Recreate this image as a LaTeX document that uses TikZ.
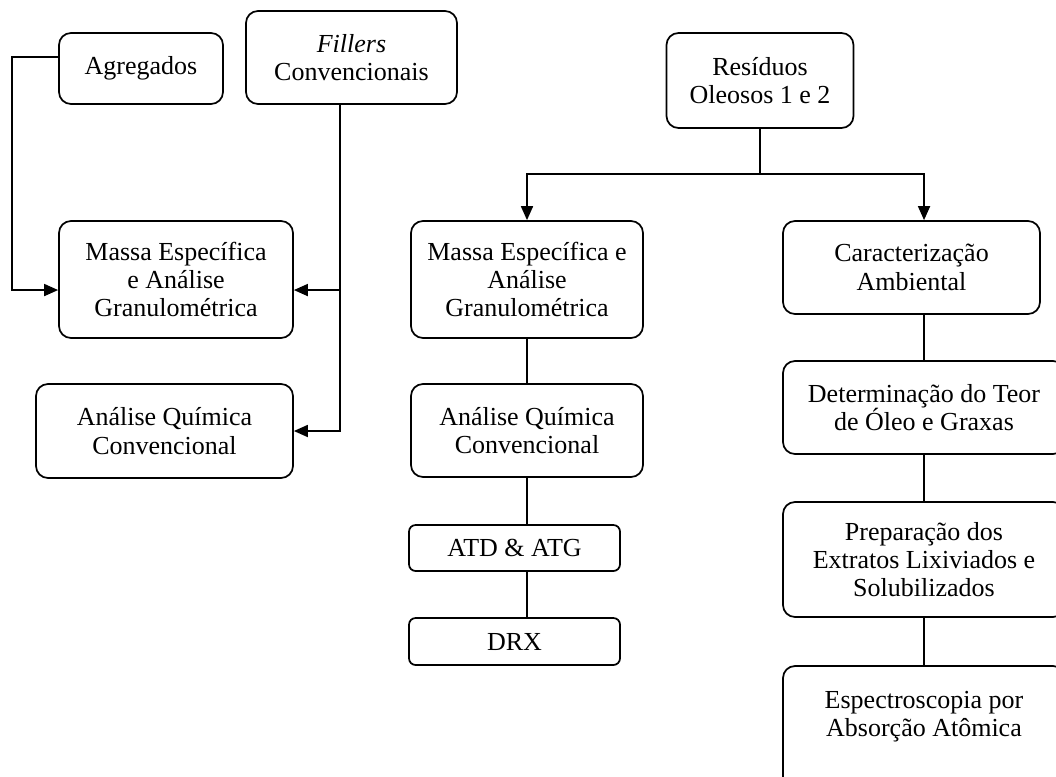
\documentclass[tikz,border=0pt]{standalone}
\usepackage{fontspec}
\setmainfont{Liberation Serif}
\usetikzlibrary{arrows.meta}

\newcommand{\fonte}{\fontsize{19.5}{21.3}\selectfont}
\tikzset{
  caixa/.style={draw, rounded corners=9pt, line width=1.3pt, align=center, inner sep=2pt, font=\fonte},
  caixinha/.style={caixa, rounded corners=5pt},
  liga/.style={line width=1.3pt},
  seta/.style={liga, -{Triangle[length=10.5pt,width=9pt]}}
}

\begin{document}
\begin{tikzpicture}[x=0.75pt, y=-0.75pt]
	\useasboundingbox (0,0) rectangle (1056,776);
	\clip (0,0) rectangle (1056,776);

	%--- coluna da esquerda
	\node[caixa, minimum width=123pt, minimum height=53.25pt] (agreg) at (141,68.5) {Agregados};
	\node[caixa, minimum width=158.25pt, minimum height=69.75pt] (fillers) at (351.5,57.5) {\textit{Fillers}\\Convencionais};
	\node[caixa, minimum width=175.5pt, minimum height=87.75pt] (massaL) at (176,279.5) {Massa Específica\\e Análise\\Granulométrica};
	\node[caixa, minimum width=192.75pt, minimum height=70.5pt] (quimL) at (164.5,431) {Análise Química\\Convencional};

	\draw[seta] ([yshift=8.6pt]agreg.west) -| (12,290) -- ([yshift=-7.9pt]massaL.west);
	\draw[seta] ([xshift=-8.6pt]fillers.south) |- ([yshift=-7.9pt]massaL.east);
	\draw[seta] ([xshift=-8.6pt]fillers.south) |- (quimL.east);

	%--- residuos
	\node[caixa, minimum width=140.25pt, minimum height=71.25pt] (resid) at (760,80.5) {Resíduos\\Oleosos 1 e 2};
	\coordinate (ramo) at (760,174);
	\draw[liga] (resid.south) -- (ramo);

	%--- coluna do meio
	\node[caixa, minimum width=174pt, minimum height=87.75pt] (massaM) at (527,279.5) {Massa Específica e\\Análise\\Granulométrica};
	\node[caixa, minimum width=174pt, minimum height=69.75pt] (quimM) at (527,430.5) {Análise Química\\Convencional};
	\node[caixinha, minimum width=158.25pt, minimum height=34.5pt] (atd) at (514.5,548) {ATD \& ATG};
	\node[caixinha, minimum width=158.25pt, minimum height=35.25pt] (drx) at (514.5,641.5) {DRX};

	\draw[seta] (ramo) -| (massaM.north);
	\draw[liga] (massaM.south) -- (quimM.north);
	\draw[liga] (quimM.south) -- (quimM.south |- atd.north);
	\draw[liga] (quimM.south |- atd.south) -- (quimM.south |- drx.north);

	%--- coluna da direita
	\node[caixa, minimum width=192.75pt, minimum height=69.75pt] (carac) at (911.5,267.5) {Caracterização\\Ambiental};
	\node[caixa, minimum width=211.5pt, minimum height=69.75pt] (determ) at (924,407.5) {Determinação do Teor\\de Óleo e Graxas};
	\node[caixa, minimum width=211.5pt, minimum height=86.25pt] (prep) at (924,559.5) {Preparação dos\\Extratos Lixiviados e\\Solubilizados};
	\node[caixa, minimum width=211.5pt, minimum height=93pt] (espec) at (924,728) {Espectroscopia por\\Absorção Atômica\\~};

	\draw[seta] (ramo) -| ([xshift=9.4pt]carac.north);
	\draw[liga] ([xshift=9.4pt]carac.south) -- (determ.north);
	\draw[liga] (determ.south) -- (prep.north);
	\draw[liga] (prep.south) -- (espec.north);
\end{tikzpicture}
\end{document}
